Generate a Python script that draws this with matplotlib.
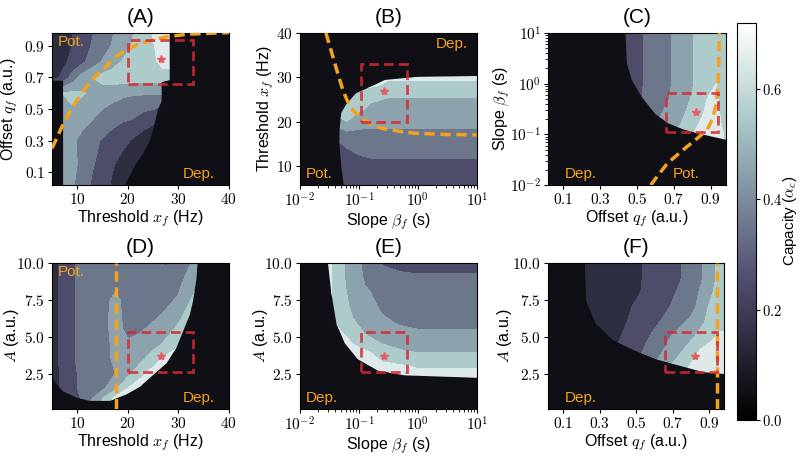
import matplotlib

matplotlib.use("Agg")

import matplotlib.pyplot as plt
import numpy as np
from matplotlib.cm import ScalarMappable
from matplotlib.colors import Normalize
from matplotlib.patches import Polygon, Rectangle
from matplotlib.ticker import FixedLocator, FuncFormatter, NullFormatter

plt.rcParams["font.family"] = ["Liberation Sans", "DejaVu Sans"]
plt.rcParams["mathtext.fontset"] = "cm"

# ---------------- data ----------------
# (A) capacity vs threshold x_f (columns) and offset q_f (rows)
a_thr = [5, 7, 9, 11, 13, 15, 17, 19, 21, 23, 25, 27, 29, 32, 40]
a_off = [0.0, 0.15, 0.3, 0.45, 0.6, 0.7, 0.8, 0.9, 1.0]
a_cap = [
    [.46, .46, .41, .35, .28, .24, .18, .13, .08, .05, .05, .05, .05, .05, .05],
    [.47, .47, .43, .37, .31, .26, .21, .16, .11, .06, .05, .05, .05, .05, .05],
    [.48, .47, .42, .37, .33, .29, .26, .23, .19, .15, .10, .08, .08, .08, .08],
    [.50, .50, .48, .44, .41, .37, .34, .32, .31, .27, .25, .20, .20, .20, .20],
    [.45, .50, .52, .51, .48, .46, .44, .42, .41, .41, .41, .41, .41, .41, .41],
    [.15, .22, .34, .44, .50, .53, .55, .55, .55, .54, .54, .56, .56, .50, .50],
    [.13, .17, .23, .28, .34, .41, .46, .51, .54, .56, .58, .63, .63, .60, .60],
    [.12, .15, .20, .25, .31, .35, .41, .45, .51, .55, .59, .66, .66, .60, .60],
    [.12, .15, .20, .24, .29, .34, .39, .44, .49, .54, .61, .67, .67, .60, .60],
]
a_edge_thr = [7.2, 7.2, 4.9, 4.9, 28.3, 28.3, 26.7, 26.7, 26.0, 25.0, 24.4, 23.1, 21.4, 19.6, 19.4]
a_edge_off = [0.0, 0.68, 0.68, 1.0, 1.0, 0.683, 0.67, 0.55, 0.5, 0.367, 0.304, 0.22, 0.136, 0.03, 0.0]
a_line_thr = [5, 6, 7, 8, 9, 10, 12, 14, 16, 18, 20, 22, 25, 28, 32, 40]
a_line_off = [.25, .32, .39, .45, .51, .56, .65, .72, .78, .84, .88, .91, .94, .96, .975, .985]

# (B) capacity vs slope beta_f (log10, columns) and threshold x_f (rows)
b_logslope = [-2, -1.4, -1.2, -1.0, -0.8, -0.5, -0.2, 0.2, 0.6, 1.0]
b_thr = [5, 8, 11, 14, 17, 20, 23, 26, 28, 30, 32, 40]
b_cap = [
    [.18, .18, .20, .22, .23, .23, .23, .23, .23, .23],
    [.20, .20, .22, .25, .26, .26, .26, .26, .26, .26],
    [.22, .22, .25, .28, .29, .29, .29, .29, .29, .29],
    [.25, .25, .30, .32, .33, .33, .33, .33, .33, .33],
    [.32, .32, .36, .37, .38, .38, .38, .38, .38, .38],
    [.45, .45, .50, .44, .42, .42, .42, .42, .42, .42],
    [.55, .55, .55, .52, .48, .46, .46, .46, .46, .46],
    [.61, .61, .61, .56, .53, .51, .51, .51, .51, .51],
    [.61, .61, .62, .62, .61, .57, .56, .56, .56, .56],
    [.62, .62, .62, .62, .62, .62, .62, .62, .62, .62],
    [.65, .65, .65, .65, .65, .65, .65, .65, .65, .65],
    [.65, .65, .65, .65, .65, .65, .65, .65, .65, .65],
]
b_edge_logslope = [-1.24, -1.3, -1.33, -1.33, -1.3, -1.21, -1.05, -0.73, -0.56, 0.0, 1.1, 1.1]
b_edge_thr = [4.0, 10, 15, 18, 22, 24, 26.4, 28.3, 29.4, 30.1, 30.3, 4.0]
b_line_logslope = [-1.56, -1.45, -1.36, -1.27, -1.19, -1.1, -0.96, -0.8, -0.62, -0.3, -0.06, 0.5, 1.0]
b_line_thr = [40, 35, 30.9, 27, 24.5, 22.5, 20.8, 19.5, 18.5, 17.8, 17.4, 17.1, 17.0]

# (C) capacity vs offset q_f (columns) and slope beta_f (log10, rows)
c_off = [0.0, 0.3, 0.45, 0.55, 0.65, 0.75, 0.82, 0.88, 0.93, 1.0]
c_logslope = [-2, -1.2, -1.0, -0.8, -0.6, -0.3, 0, 0.5, 1]
c_cap = [
    [.30, .33, .36, .40, .46, .54, .61, .64, .63, .58],
    [.30, .33, .36, .40, .46, .54, .61, .64, .63, .58],
    [.30, .33, .36, .40, .46, .54, .61, .64, .63, .58],
    [.25, .28, .32, .36, .43, .51, .59, .63, .63, .55],
    [.22, .25, .31, .35, .41, .49, .56, .62, .62, .55],
    [.20, .22, .26, .31, .38, .46, .53, .60, .61, .54],
    [.20, .22, .25, .31, .37, .45, .51, .56, .60, .54],
    [.20, .22, .25, .31, .37, .45, .51, .55, .57, .56],
    [.20, .22, .25, .31, .37, .45, .51, .55, .57, .56],
]
c_edge_off = [0.436, 0.445, 0.472, 0.525, 0.597, 0.668, 0.757, 0.865, 1.0, 1.0]
c_edge_logslope = [1.1, 0.4, 0.07, -0.26, -0.59, -0.78, -0.91, -1.01, -1.12, 1.1]
c_line_off = [0.575, 0.62, 0.665, 0.72, 0.772, 0.83, 0.88, 0.91, 0.93, 0.94, 0.945, 0.947]
c_line_logslope = [-2, -1.78, -1.57, -1.4, -1.24, -1.07, -0.91, -0.7, -0.4, 0, 0.5, 1]

# (D) capacity vs threshold x_f (columns) and amplitude A (rows)
d_thr = [5, 6.5, 8, 10, 12.5, 15, 17.5, 20, 22.5, 25, 27.5, 30, 32.5, 35, 40]
d_amp = [0.1, 0.8, 1.5, 2.5, 3.5, 4.5, 5.5, 6.5, 7.5, 8.5, 10]
d_cap = [
    [.12, .15, .20, .27, .38, .50, .63, .66, .66, .66, .66, .66, .66, .66, .66],
    [.12, .15, .20, .27, .38, .50, .63, .66, .66, .66, .66, .66, .66, .66, .66],
    [.15, .20, .26, .30, .34, .38, .48, .60, .66, .66, .66, .66, .66, .66, .66],
    [.15, .20, .26, .30, .33, .36, .40, .47, .57, .64, .70, .70, .70, .70, .70],
    [.15, .21, .26, .31, .35, .38, .41, .41, .47, .55, .62, .67, .67, .67, .67],
    [.15, .21, .26, .31, .34, .37, .42, .41, .43, .46, .52, .58, .62, .62, .62],
    [.15, .21, .26, .31, .34, .37, .43, .38, .39, .42, .46, .52, .58, .58, .58],
    [.15, .21, .26, .31, .34, .37, .43, .37, .37, .38, .41, .47, .54, .56, .56],
    [.15, .21, .26, .31, .34, .37, .42, .37, .37, .37, .38, .41, .50, .56, .56],
    [.15, .21, .26, .31, .34, .37, .38, .37, .37, .37, .36, .38, .46, .53, .53],
    [.15, .21, .26, .31, .34, .36, .37, .37, .37, .35, .29, .36, .40, .48, .48],
]
d_edge_thr = [4.9, 4.9, 5.6, 7.2, 9.9, 12.5, 16.5, 19.8, 22.4, 25.0, 27.7, 29.7, 31.0, 32.3, 32.9, 33.6, 33.9]
d_edge_amp = [10.5, 2.4, 1.9, 1.3, 0.86, 0.65, 0.65, 1.1, 1.6, 2.4, 3.2, 4.3, 5.4, 6.5, 7.4, 8.9, 10.5]
d_line_thr = [17.6, 17.6]
d_line_amp = [0.1, 10]

# (E) capacity vs slope beta_f (log10, columns) and amplitude A (rows)
e_logslope = [-2, -1.5, -1.3, -1.1, -0.9, -0.6, -0.3, 0, 0.5, 1]
e_amp = [0.1, 2, 3, 4, 5, 6, 7, 8, 9, 10]
e_cap = [
    [.65, .65, .65, .65, .65, .65, .65, .65, .65, .65],
    [.65, .65, .65, .65, .65, .65, .65, .65, .65, .65],
    [.65, .65, .65, .65, .64, .62, .61, .59, .59, .59],
    [.62, .62, .62, .62, .61, .55, .51, .49, .49, .49],
    [.61, .61, .61, .58, .51, .45, .43, .42, .42, .42],
    [.61, .61, .58, .51, .45, .41, .39, .38, .38, .38],
    [.61, .61, .55, .47, .42, .39, .37, .36, .36, .36],
    [.61, .61, .53, .45, .41, .37, .35, .34, .34, .34],
    [.61, .61, .52, .44, .39, .34, .32, .31, .31, .31],
    [.61, .61, .52, .43, .38, .29, .27, .27, .27, .27],
]
e_edge_logslope = [-1.54, -1.47, -1.38, -1.24, -1.02, -0.68, -0.23, 1.1, 1.1]
e_edge_amp = [10.5, 8, 5.85, 4.55, 3.47, 2.7, 2.38, 2.2, 10.5]

# (F) capacity vs offset q_f (columns) and amplitude A (rows)
f_off = [0.0, 0.2, 0.3, 0.4, 0.5, 0.6, 0.7, 0.8, 0.85, 0.9, 0.95, 1.0]
f_amp = [0.1, 2.5, 3, 3.5, 4, 5, 6, 7, 8, 9, 10]
f_cap = [
    [.12, .12, .16, .21, .28, .41, .52, .61, .66, .68, .67, .64],
    [.12, .12, .16, .21, .28, .41, .52, .61, .66, .68, .67, .64],
    [.12, .12, .16, .21, .28, .41, .52, .61, .66, .68, .67, .64],
    [.12, .12, .16, .21, .28, .38, .48, .58, .64, .67, .66, .63],
    [.12, .12, .16, .21, .27, .36, .45, .55, .61, .64, .65, .62],
    [.12, .12, .15, .19, .25, .32, .41, .48, .53, .57, .61, .61],
    [.12, .12, .15, .18, .22, .28, .35, .42, .47, .53, .58, .58],
    [.12, .12, .14, .17, .21, .25, .31, .37, .43, .51, .56, .57],
    [.12, .12, .14, .17, .19, .23, .29, .35, .41, .47, .54, .56],
    [.12, .12, .14, .17, .19, .22, .27, .33, .38, .45, .52, .55],
    [.12, .12, .14, .17, .19, .22, .27, .33, .38, .45, .52, .55],
]
f_edge_off = [0.217, 0.226, 0.28, 0.372, 0.482, 0.61, 0.738, 0.866, 1.0, 1.0]
f_edge_amp = [10.5, 7.4, 5.85, 4.77, 4.1, 3.46, 3.03, 2.6, 2.45, 10.5]
f_line_off = [0.94, 0.94]
f_line_amp = [0.1, 10]

# chosen parameter set (star) and its search box
thr_box, thr_star = [20, 33], 26.6
off_box, off_star = [0.66, 0.94], 0.82
slope_box, slope_star = [0.11, 0.65], 0.27
amp_box, amp_star = [2.6, 5.3], 3.7

# ---------------- styling ----------------
cmap = plt.get_cmap("bone")
norm = Normalize(0, 0.72)
levels = np.linspace(0, 0.8, 9)
ORANGE = "#f2a21e"
RED = "#d42a33"

fig = plt.figure(figsize=(8, 4.57), dpi=100)


def math_ticks(fmt):
    return FuncFormatter(lambda v, _: "$" + fmt.format(v) + "$")


log_ticks = FuncFormatter(lambda v, _: r"$10^{%d}$" % round(np.log10(v)))


def panel(rect, xs, ys, zz, ex, ey, xlog=False, ylog=False):
    ax = fig.add_axes(rect)
    ax.set_facecolor(cmap(norm(0.05)))
    if xlog:
        ax.set_xscale("log")
    if ylog:
        ax.set_yscale("log")
    cs = ax.contourf(xs, ys, np.array(zz), levels=levels, cmap=cmap, norm=norm)
    clip = Polygon(np.column_stack([ex, ey]), closed=True, transform=ax.transData)
    cs.set_clip_path(clip)
    ax.tick_params(labelsize=11, length=3, pad=2)
    return ax


def decorate(ax, bx, by, sx, sy):
    ax.add_patch(Rectangle((bx[0], by[0]), bx[1] - bx[0], by[1] - by[0], fill=False,
                           ec=RED, lw=2, ls=(0, (3.5, 1.8)), alpha=0.85, zorder=4))
    ax.plot([sx], [sy], marker="*", ms=6, color="#e85a60", zorder=5)


def label(ax, x, y, s, ha, va):
    ax.text(x, y, s, transform=ax.transAxes, ha=ha, va=va, color=ORANGE, fontsize=11, zorder=6)


def axis_text(ax, xl, yl, title, ylab_x):
    ax.set_xlabel(xl, fontsize=11.5, labelpad=1)
    ax.set_ylabel(yl, fontsize=11.5)
    ax.yaxis.set_label_coords(ylab_x, 0.5)
    ax.set_title(title, fontsize=15, pad=7)


w, h = 0.221, 0.333
lefts = [0.065, 0.375, 0.685]
b1, b2, h2 = 0.595, 0.105, 0.32
thr_lim = (5, 40)
off_lim = (0.017, 0.983)
slope_lim = (0.01, 10)
amp_lim = (0.1, 10)
line_kw = dict(color=ORANGE, lw=2.5, ls=(0, (3, 1.6)), zorder=3)

# (A)
ax = panel([lefts[0], b1, w, h], a_thr, a_off, a_cap, a_edge_thr, a_edge_off)
ax.plot(a_line_thr, a_line_off, **line_kw)
decorate(ax, thr_box, off_box, thr_star, off_star)
ax.set_xlim(thr_lim)
ax.set_ylim(off_lim)
ax.xaxis.set_major_locator(FixedLocator([10, 20, 30, 40]))
ax.xaxis.set_major_formatter(math_ticks("{:.0f}"))
ax.yaxis.set_major_locator(FixedLocator([0.1, 0.3, 0.5, 0.7, 0.9]))
ax.yaxis.set_major_formatter(math_ticks("{:.1f}"))
axis_text(ax, "Threshold $x_f$ (Hz)", "Offset $q_f$ (a.u.)", "(A)", -0.18)
label(ax, 0.035, 0.985, "Pot.", "left", "top")
label(ax, 0.92, 0.03, "Dep.", "right", "bottom")

# (B)
bx = [10 ** v for v in b_logslope]
ax = panel([lefts[1], b1, w, h], bx, b_thr, b_cap, [10 ** v for v in b_edge_logslope], b_edge_thr, xlog=True)
ax.plot([10 ** v for v in b_line_logslope], b_line_thr, **line_kw)
decorate(ax, slope_box, thr_box, slope_star, 26.9)
ax.set_xlim(slope_lim)
ax.set_ylim(5.7, 40)
ax.xaxis.set_major_formatter(log_ticks)
ax.xaxis.set_minor_formatter(NullFormatter())
ax.yaxis.set_major_locator(FixedLocator([10, 20, 30, 40]))
ax.yaxis.set_major_formatter(math_ticks("{:.0f}"))
axis_text(ax, r"Slope $\beta_f$ (s)", "Threshold $x_f$ (Hz)", "(B)", -0.135)
label(ax, 0.95, 0.975, "Dep.", "right", "top")
label(ax, 0.03, 0.03, "Pot.", "left", "bottom")

# (C)
cy = [10 ** v for v in c_logslope]
ax = panel([lefts[2], b1, 0.2225, h], c_off, cy, c_cap, c_edge_off, [10 ** v for v in c_edge_logslope], ylog=True)
ax.plot(c_line_off, [10 ** v for v in c_line_logslope], **line_kw)
decorate(ax, off_box, slope_box, off_star, 0.28)
ax.set_xlim(off_lim)
ax.set_ylim(slope_lim)
ax.xaxis.set_major_locator(FixedLocator([0.1, 0.3, 0.5, 0.7, 0.9]))
ax.xaxis.set_major_formatter(math_ticks("{:.1f}"))
ax.yaxis.set_major_formatter(log_ticks)
ax.yaxis.set_minor_formatter(NullFormatter())
axis_text(ax, "Offset $q_f$ (a.u.)", r"Slope $\beta_f$ (s)", "(C)", -0.2)
label(ax, 0.095, 0.03, "Dep.", "left", "bottom")
label(ax, 0.70, 0.03, "Pot.", "left", "bottom")

# (D)
ax = panel([lefts[0], b2, w, h2], d_thr, d_amp, d_cap, d_edge_thr, d_edge_amp)
ax.plot(d_line_thr, d_line_amp, **line_kw)
decorate(ax, thr_box, amp_box, thr_star, amp_star)
ax.set_xlim(thr_lim)
ax.set_ylim(amp_lim)
ax.xaxis.set_major_locator(FixedLocator([10, 20, 30, 40]))
ax.xaxis.set_major_formatter(math_ticks("{:.0f}"))
ax.yaxis.set_major_locator(FixedLocator([2.5, 5.0, 7.5, 10.0]))
ax.yaxis.set_major_formatter(math_ticks("{:.1f}"))
axis_text(ax, "Threshold $x_f$ (Hz)", "$A$ (a.u.)", "(D)", -0.175)
label(ax, 0.035, 0.985, "Pot.", "left", "top")
label(ax, 0.92, 0.03, "Dep.", "right", "bottom")

# (E)
ex = [10 ** v for v in e_logslope]
ax = panel([lefts[1], b2, w, h2], ex, e_amp, e_cap, [10 ** v for v in e_edge_logslope], e_edge_amp, xlog=True)
decorate(ax, slope_box, amp_box, slope_star, amp_star)
ax.set_xlim(slope_lim)
ax.set_ylim(amp_lim)
ax.xaxis.set_major_formatter(log_ticks)
ax.xaxis.set_minor_formatter(NullFormatter())
ax.yaxis.set_major_locator(FixedLocator([2.5, 5.0, 7.5, 10.0]))
ax.yaxis.set_major_formatter(math_ticks("{:.1f}"))
axis_text(ax, r"Slope $\beta_f$ (s)", "$A$ (a.u.)", "(E)", -0.17)
label(ax, 0.03, 0.03, "Dep.", "left", "bottom")

# (F)
ax = panel([lefts[2], b2, 0.2205, h2], f_off, f_amp, f_cap, f_edge_off, f_edge_amp)
ax.plot(f_line_off, f_line_amp, **line_kw)
decorate(ax, off_box, amp_box, off_star, amp_star)
ax.set_xlim(off_lim)
ax.set_ylim(amp_lim)
ax.xaxis.set_major_locator(FixedLocator([0.1, 0.3, 0.5, 0.7, 0.9]))
ax.xaxis.set_major_formatter(math_ticks("{:.1f}"))
ax.yaxis.set_major_locator(FixedLocator([2.5, 5.0, 7.5, 10.0]))
ax.yaxis.set_major_formatter(math_ticks("{:.1f}"))
axis_text(ax, "Offset $q_f$ (a.u.)", "$A$ (a.u.)", "(F)", -0.195)
label(ax, 0.095, 0.03, "Dep.", "left", "bottom")

# colorbar
cax = fig.add_axes([0.921, 0.081, 0.024, 0.869])
cb = fig.colorbar(ScalarMappable(norm=norm, cmap=cmap), cax=cax)
cb.set_ticks([0.0, 0.2, 0.4, 0.6])
cb.ax.yaxis.set_major_formatter(math_ticks("{:.1f}"))
cb.ax.tick_params(labelsize=10.5, length=3, pad=1.5)
cb.set_label(r"Capacity ($\alpha_c$)", fontsize=11)
cb.ax.yaxis.set_label_coords(2.3, 0.5)

fig.savefig("out.png", dpi=100)
